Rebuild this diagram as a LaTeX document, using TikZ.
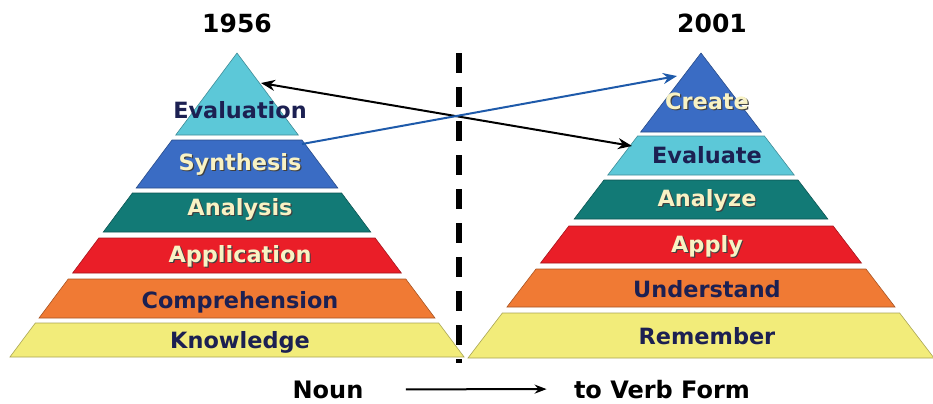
\documentclass[tikz,border=0pt]{standalone}
\usepackage{fontspec}
\setmainfont{DejaVu Sans}
\usetikzlibrary{arrows.meta}

\definecolor{evalcyan}{RGB}{92,200,216}
\definecolor{synblue}{RGB}{58,108,196}
\definecolor{anateal}{RGB}{18,122,118}
\definecolor{appred}{RGB}{234,30,40}
\definecolor{comporange}{RGB}{240,122,52}
\definecolor{knowyellow}{RGB}{242,236,122}
\definecolor{navytext}{RGB}{28,32,82}
\definecolor{creamtext}{RGB}{248,242,196}
\definecolor{arrowblue}{RGB}{30,90,170}

% light text gets a small dark drop shadow
\newcommand{\shadowed}[1]{\rlap{\hspace{0.6pt}\raisebox{-0.6pt}{\color{black!75}#1}}#1}

\begin{document}
\begin{tikzpicture}[x=0.5pt,y=-0.5pt,
  level/.style={anchor=base,font=\fontsize{11.2}{13}\selectfont\bfseries},
  title/.style={anchor=base,inner sep=1pt,font=\fontsize{12.5}{14}\selectfont\bfseries},
  link/.style={line width=1pt}]
\useasboundingbox (0,0) rectangle (933,403);

% Left pyramid (1956), apex at (237,53)
\foreach \yt/\yb/\col/\tc/\by/\nm/\txt in {
    53/135/evalcyan/navytext/118/eval/Evaluation,
    140/188/synblue/creamtext/170/syn/{\shadowed{Synthesis}},
    193/232/anateal/creamtext/215/ana/{\shadowed{Analysis}},
    238/273/appred/creamtext/262/app/{\shadowed{Application}},
    279/318/comporange/navytext/308/comp/Comprehension,
    323/357/knowyellow/navytext/348/know/Knowledge}{
  \pgfmathsetmacro{\wt}{0.747*(\yt-53)}
  \pgfmathsetmacro{\wb}{0.747*(\yb-53)}
  \filldraw[fill=\col,draw=\col!70!black,line width=0.3pt]
    ({237-\wt},\yt) -- ({237+\wt},\yt) -- ({237+\wb},\yb) -- ({237-\wb},\yb) -- cycle;
  \node[level,text=\tc] (old-\nm) at (240,\by) {\txt};
}

% Right pyramid (2001), apex at (701,53)
\foreach \yt/\yb/\col/\tc/\by/\nm/\txt in {
    53/132/synblue/creamtext/109/create/{\shadowed{Create}},
    136/175/evalcyan/navytext/163/evaluate/Evaluate,
    180/219/anateal/creamtext/206/analyze/{\shadowed{Analyze}},
    226/263/appred/creamtext/252/apply/{\shadowed{Apply}},
    269/307/comporange/navytext/297/under/Understand,
    313/358/knowyellow/navytext/344/remember/Remember}{
  \pgfmathsetmacro{\wt}{0.764*(\yt-53)}
  \pgfmathsetmacro{\wb}{0.764*(\yb-53)}
  \filldraw[fill=\col,draw=\col!70!black,line width=0.3pt]
    ({701-\wt},\yt) -- ({701+\wt},\yt) -- ({701+\wb},\yb) -- ({701-\wb},\yb) -- cycle;
  \node[level,text=\tc] (new-\nm) at (707,\by) {\txt};
}

% Years
\node[title] (y1956) at (237,32) {1956};
\node[title] (y2001) at (712,32) {2001};

% Dividing line
\draw[line width=3pt,dash pattern=on 10pt off 7pt] (459,53) -- (459,363);

% Links between the two versions
\coordinate (evalTip) at (261,83);
\coordinate (evaluateTip) at (632,146);
\coordinate (synStart) at (302,144);
\coordinate (createTip) at (677,76);
\draw[link,{Stealth[length=7pt,width=5.5pt]}-{Stealth[length=7pt,width=5.5pt]}] (evalTip) -- (evaluateTip);
\draw[link,arrowblue,-{Stealth[length=7pt,width=5.5pt]}] (synStart) -- (createTip);

% Noun -> verb
\node[title,font=\fontsize{12}{14}\selectfont\bfseries] (noun) at (328,398) {Noun};
\node[title,font=\fontsize{12}{14}\selectfont\bfseries] (verb) at (662,398) {to Verb Form};
\draw[line width=1pt,-{Stealth[length=6pt,width=4.5pt]},shorten <=20pt,shorten >=12.5pt]
  (noun.east) -- (verb.west);
\end{tikzpicture}
\end{document}
